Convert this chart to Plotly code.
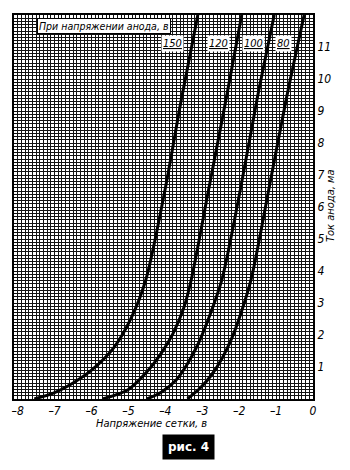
import plotly.graph_objects as go

# Grid voltage (V) and anode current (mA)
grid_v_150 = [-7.55, -7.0, -6.5, -6.0, -5.4, -4.95, -4.53, -4.01, -3.57, -3.12]
anode_ma_150 = [0.0, 0.2, 0.5, 0.9, 1.6, 2.47, 3.72, 6.53, 9.34, 12.0]

grid_v_120 = [-5.7, -5.0, -4.5, -4.1, -3.79, -3.5, -3.30, -2.83, -2.36, -1.93]
anode_ma_120 = [0.0, 0.3, 0.85, 1.45, 2.05, 2.85, 3.72, 6.53, 9.34, 12.0]

grid_v_100 = [-4.5, -4.1, -3.7, -3.4, -3.1, -2.8, -2.47, -1.97, -1.52, -1.05]
anode_ma_100 = [0.0, 0.22, 0.6, 1.1, 1.75, 2.6, 3.72, 6.53, 9.34, 12.0]

grid_v_80 = [-3.4, -3.05, -2.75, -2.45, -2.2, -1.95, -1.68, -1.2, -0.73, -0.24]
anode_ma_80 = [0.0, 0.35, 0.75, 1.3, 1.9, 2.69, 3.72, 6.53, 9.34, 12.0]

curve_labels = ["150", "120", "100", "80"]
label_x = [-3.8, -2.55, -1.6, -0.8]

x_ticks = [-8, -7, -6, -5, -4, -3, -2, -1, 0]
y_ticks = [1, 2, 3, 4, 5, 6, 7, 8, 9, 10, 11]

FONT = "DejaVu Sans Condensed, Liberation Sans Narrow, DejaVu Sans, sans-serif"

fig = go.Figure()
for xs, ys in [(grid_v_150, anode_ma_150), (grid_v_120, anode_ma_120),
               (grid_v_100, anode_ma_100), (grid_v_80, anode_ma_80)]:
    fig.add_trace(go.Scatter(x=xs, y=ys, mode="lines",
                             line=dict(color="black", width=3, shape="spline", smoothing=0.8),
                             showlegend=False, hoverinfo="skip"))

fig.update_layout(
    width=350, height=470,
    margin=dict(l=14, r=37, t=15, b=71),
    paper_bgcolor="white", plot_bgcolor="white",
    font=dict(family=FONT, color="black", size=11),
    xaxis=dict(range=[-8.1, 0], tickvals=x_ticks,
               ticktext=[("\u2013" + str(-v)) if v < 0 else "0" for v in x_ticks],
               showgrid=True, gridcolor="#111", gridwidth=1,
               minor=dict(dtick=0.1, tick0=0, showgrid=True, gridcolor="#111", gridwidth=1),
               showline=True, linecolor="black", linewidth=2, mirror=True,
               ticks="", zeroline=False,
               tickfont=dict(family=FONT, size=12, style="italic")),
    yaxis=dict(range=[0, 12], tickvals=y_ticks, side="right",
               showgrid=True, gridcolor="#111", gridwidth=1,
               minor=dict(dtick=0.1, tick0=0, showgrid=True, gridcolor="#111", gridwidth=1),
               showline=True, linecolor="black", linewidth=2, mirror=True,
               ticks="", zeroline=False,
               tickfont=dict(family=FONT, size=12, style="italic")),
)

# Axis titles
fig.add_annotation(x=0.46, y=-0.0625, xref="paper", yref="paper", yanchor="middle",
                   showarrow=False, text="Напряжение сетки, в",
                   font=dict(family=FONT, size=11, style="italic"))
fig.add_annotation(x=1.085, y=0.505, xref="paper", yref="paper", showarrow=False,
                   text="Ток анода, ма", textangle=-90,
                   font=dict(family=FONT, size=11, style="italic"))

# Header box
fig.add_annotation(x=0.078, y=0.971, xref="paper", yref="paper", xanchor="left",
                   yanchor="middle", showarrow=False,
                   text="При напряжении анода, в", bgcolor="white", bordercolor="black",
                   borderwidth=1, borderpad=1,
                   font=dict(family=FONT, size=10.5, style="italic"))

# Curve labels
for lab, lx in zip(curve_labels, label_x):
    fig.add_annotation(x=lx, y=11.1, xref="x", yref="y", showarrow=False,
                       text="<u>" + lab + "</u>", bgcolor="white", borderpad=1,
                       font=dict(family=FONT, size=11, style="italic"))

# Figure caption
fig.add_annotation(x=0.583, y=-0.125, xref="paper", yref="paper", yanchor="middle",
                   showarrow=False, text="<b>рис. 4</b>", bgcolor="black", borderpad=5,
                   font=dict(family="DejaVu Sans, sans-serif", size=12, color="white"))

fig.write_html("out.html")
